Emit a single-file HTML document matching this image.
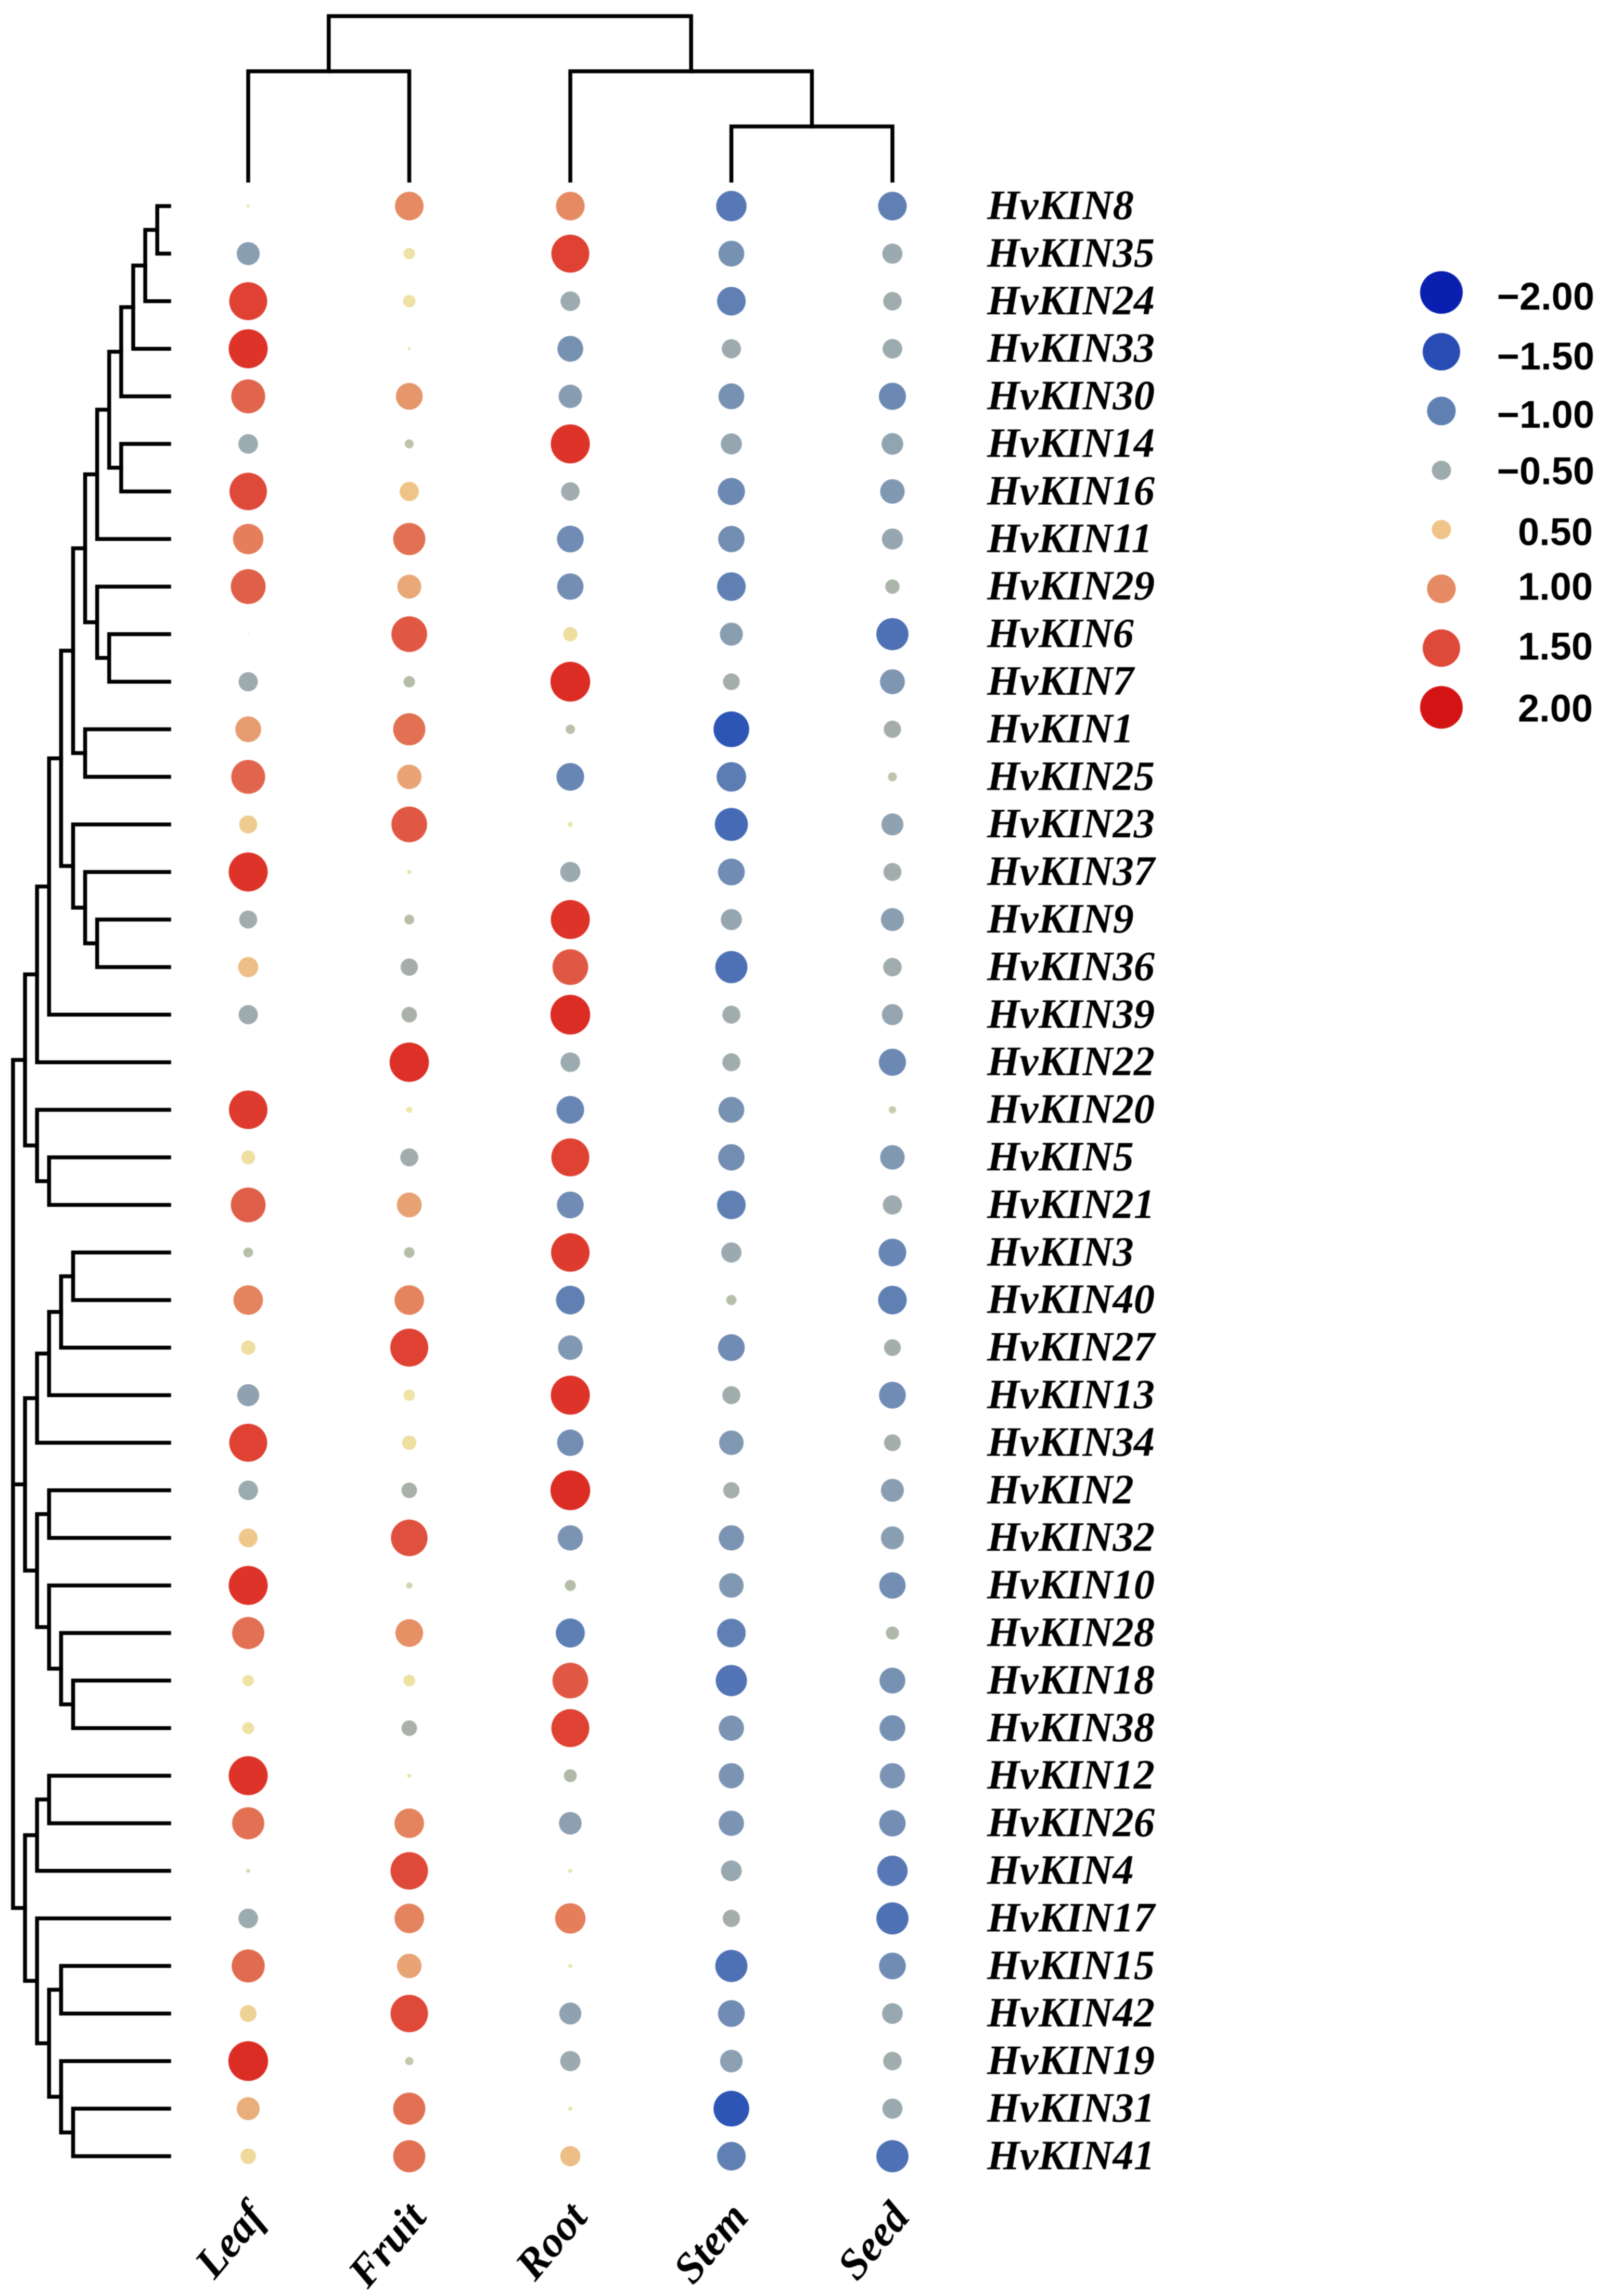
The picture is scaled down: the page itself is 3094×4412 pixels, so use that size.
<!DOCTYPE html>
<html lang="en">
<head>
<meta charset="utf-8">
<title>HvKIN expression dot heatmap</title>
<style>
  html, body { margin: 0; padding: 0; background: #fff; }
  #chart { display: block; width: 3094px; height: 4412px; filter: blur(0.9px); }
  .gene { font: italic bold 80.5px "Liberation Serif", serif; fill: #000; }
  .tissue { font: italic bold 83px "Liberation Serif", serif; fill: #000; }
  .legend-label { font: bold 74px "Liberation Sans", sans-serif; fill: #000; }
</style>
</head>
<body>
<svg id="chart" xmlns="http://www.w3.org/2000/svg" width="3094" height="4412" viewBox="0 0 3094 4412">
  <rect width="3094" height="4412" fill="#fff"></rect>
  <g id="top-dendrogram" fill="none" stroke="#000" stroke-width="7.5" stroke-linecap="square"></g>
  <g id="left-dendrogram" fill="none" stroke="#000" stroke-width="7.5" stroke-linecap="square"></g>
  <g id="dots"></g>
  <g id="gene-labels"></g>
  <g id="tissue-labels"></g>
  <g id="legend"></g>
</svg>
<script>
const genes = ["HvKIN8","HvKIN35","HvKIN24","HvKIN33","HvKIN30","HvKIN14","HvKIN16","HvKIN11","HvKIN29","HvKIN6","HvKIN7","HvKIN1","HvKIN25","HvKIN23","HvKIN37","HvKIN9","HvKIN36","HvKIN39","HvKIN22","HvKIN20","HvKIN5","HvKIN21","HvKIN3","HvKIN40","HvKIN27","HvKIN13","HvKIN34","HvKIN2","HvKIN32","HvKIN10","HvKIN28","HvKIN18","HvKIN38","HvKIN12","HvKIN26","HvKIN4","HvKIN17","HvKIN15","HvKIN42","HvKIN19","HvKIN31","HvKIN41"];
const tissues = ["Leaf","Fruit","Root","Stem","Seed"];
const leafValues = [0.02,-0.7,1.55,1.65,1.3,-0.52,1.5,1.1,1.35,0.005,-0.5,0.85,1.3,0.45,1.65,-0.45,0.55,-0.5,0,1.6,0.28,1.35,-0.14,1.05,0.3,-0.65,1.55,-0.52,0.48,1.65,1.2,0.18,0.2,1.65,1.2,-0.03,-0.52,1.25,0.4,1.72,0.7,0.35];
const fruitValues = [1.0,0.18,0.22,0.02,0.9,-0.12,0.5,1.2,0.75,1.4,-0.18,1.2,0.78,1.4,0.03,-0.14,-0.42,-0.35,1.68,0.05,-0.45,0.8,-0.16,1.05,1.55,0.18,0.3,-0.35,1.45,-0.05,0.95,0.2,-0.35,0.03,1.05,1.5,1.05,0.78,1.5,-0.1,1.2,1.2];
const rootValues = [1.0,1.55,-0.52,-0.85,-0.72,1.65,-0.47,-0.9,-0.88,0.3,1.72,-0.13,-0.95,0.04,-0.55,1.65,1.4,1.72,-0.52,-0.95,1.55,-0.9,1.6,-1.0,-0.78,1.65,-0.88,1.72,-0.82,-0.17,-1.02,1.4,1.55,-0.24,-0.68,0.03,1.1,0.03,-0.65,-0.55,0.03,0.55];
const stemValues = [-1.1,-0.85,-1.0,-0.5,-0.85,-0.6,-0.92,-0.88,-1.0,-0.7,-0.4,-1.4,-1.05,-1.25,-0.9,-0.6,-1.2,-0.45,-0.45,-0.85,-0.88,-1.0,-0.55,-0.15,-0.9,-0.45,-0.78,-0.38,-0.82,-0.78,-1.0,-1.15,-0.82,-0.82,-0.82,-0.58,-0.42,-1.2,-0.9,-0.68,-1.4,-1.0];
const seedValues = [-1.0,-0.55,-0.47,-0.52,-0.92,-0.63,-0.78,-0.6,-0.3,-1.2,-0.8,-0.42,-0.12,-0.65,-0.45,-0.7,-0.47,-0.6,-0.92,-0.08,-0.78,-0.5,-0.95,-1.0,-0.4,-0.9,-0.4,-0.7,-0.7,-0.88,-0.25,-0.85,-0.85,-0.82,-0.88,-1.1,-1.2,-0.9,-0.58,-0.47,-0.55,-1.2];
const legendValues = [-2,-1.5,-1,-0.5,0.5,1,1.5,2];
const legendLabels = ["\u22122.00","\u22121.50","\u22121.00","\u22120.50","0.50","1.00","1.50","2.00"];

// Dendrogram topology: [level, ...children]; numbers are leaf indexes.
const tissueTree = [0,[1,0,1],[1,2,[2,3,4]]];
const geneTree = [0,
  [1,
    [2,
      [3,
        [4,
          [5,
            [6,
              [7,
                [8,
                  [9,[10,[11,[12,0,1],2],3],4],
                  [9,5,6]
                ],
                7
              ],
              [7,8,[8,9,10]]
            ],
            [6,11,12]
          ],
          [5,13,[6,14,[7,15,16]]]
        ],
        17
      ],
      18
    ],
    [2,19,[3,20,21]]
  ],
  [1,
    [2,[3,[4,[5,22,23],24],25],26],
    [2,
      [3,27,28],
      [3,29,[4,30,[5,31,32]]]
    ]
  ],
  [1,
    [2,[3,33,34],35],
    [2,36,[3,[4,37,38],[4,39,[5,40,41]]]]
  ]
];

const seriesByTissue = [leafValues, fruitValues, rootValues, stemValues, seedValues];
const SVG_NS = "http://www.w3.org/2000/svg";

function xScale(col) { return 477 + col * 309.5; }
function yScale(row) { return 396 + row * 91.4; }
function geneLevelX(level) { return 25 + level * 23.1; }
function tissueLevelY(level) { return 31 + level * 106; }

function interpolate(v, domain, range) {
  if (v <= domain[0]) return range[0];
  for (let i = 1; i < domain.length; i++) {
    if (v <= domain[i]) {
      const t = (v - domain[i - 1]) / (domain[i] - domain[i - 1]);
      return range[i - 1] + t * (range[i] - range[i - 1]);
    }
  }
  return range[range.length - 1];
}
function sizeScale(v) {
  return interpolate(Math.abs(v), [0, 0.05, 0.18, 0.5, 1, 1.5, 2], [2, 12, 22, 37, 55, 72, 82]);
}
function colorScale(v) {
  const domain = [-2, -1.4, -1.2, -1, -0.8, -0.55, -0.4, -0.14, 0, 0.05, 0.3, 0.5, 0.75, 1, 1.35, 1.65, 2];
  const reds =   [10, 45, 78, 96, 127, 154, 165, 184, 225, 238, 238, 238, 232, 229, 224, 222, 212];
  const greens = [31, 85, 113, 128, 150, 170, 174, 191, 225, 232, 222, 196, 168, 138, 95, 51, 20];
  const blues =  [175, 181, 181, 180, 179, 176, 170, 168, 180, 168, 160, 136, 120, 98, 72, 41, 20];
  return "rgb(" + Math.round(interpolate(v, domain, reds)) + "," +
    Math.round(interpolate(v, domain, greens)) + "," +
    Math.round(interpolate(v, domain, blues)) + ")";
}
function make(tag, attrs, parent) {
  const el = document.createElementNS(SVG_NS, tag);
  for (const k in attrs) el.setAttribute(k, attrs[k]);
  parent.appendChild(el);
  return el;
}

// Gene dendrogram (left, horizontal)
const leftGroup = document.getElementById("left-dendrogram");
function drawGeneNode(node) {
  if (typeof node === "number") return { pos: yScale(node), tip: 325 };
  const x = geneLevelX(node[0]);
  const kids = node.slice(1).map(drawGeneNode);
  const first = kids[0].pos;
  const last = kids[kids.length - 1].pos;
  let d = "M" + x + " " + first + "L" + x + " " + last;
  kids.forEach(function (k) { d += "M" + x + " " + k.pos + "L" + k.tip + " " + k.pos; });
  const path = make("path", { d: d }, leftGroup);
  
  
  return { pos: (first + last) / 2, tip: x };
}
drawGeneNode(geneTree);

// Tissue dendrogram (top, vertical)
const topGroup = document.getElementById("top-dendrogram");
function drawTissueNode(node) {
  if (typeof node === "number") return { pos: xScale(node), tip: 347 };
  const y = tissueLevelY(node[0]);
  const kids = node.slice(1).map(drawTissueNode);
  const first = kids[0].pos;
  const last = kids[kids.length - 1].pos;
  let d = "M" + first + " " + y + "L" + last + " " + y;
  kids.forEach(function (k) { d += "M" + k.pos + " " + y + "L" + k.pos + " " + k.tip; });
  const path = make("path", { d: d }, topGroup);
  
  
  return { pos: (first + last) / 2, tip: y };
}
drawTissueNode(tissueTree);

// Dots
const dotGroup = document.getElementById("dots");
seriesByTissue.forEach(function (values, col) {
  values.forEach(function (v, row) {
    const dot = make("circle", {
      cx: xScale(col),
      cy: yScale(row),
      r: sizeScale(v) / 2,
      fill: colorScale(v)
    }, dotGroup);
    
    
  });
});

// Gene labels
const geneGroup = document.getElementById("gene-labels");
genes.forEach(function (g, row) {
  const t = make("text", { x: 1897, y: yScale(row) + 25, "class": "gene" }, geneGroup);
  t.textContent = g;
  
  
});

// Tissue labels
const tissueGroup = document.getElementById("tissue-labels");
tissues.forEach(function (name, col) {
  const ax = xScale(col) + 36;
  const ay = 4262;
  const t = make("text", {
    x: ax, y: ay, "class": "tissue", "text-anchor": "end",
    transform: "rotate(-50 " + ax + " " + ay + ")"
  }, tissueGroup);
  t.textContent = name;
  
  
});

// Legend
const legendGroup = document.getElementById("legend");
const legendBaselineNudge = [33, 34, 32, 27, 30, 21, 22, 27];
legendValues.forEach(function (v, i) {
  const cy = 562 + i * 113.9;
  const swatch = make("circle", { cx: 2770, cy: cy, r: sizeScale(v) / 2, fill: colorScale(v) }, legendGroup);
  
  
  const t = make("text", {
    x: v < 0 ? 3064 : 3061,
    y: cy + legendBaselineNudge[i],
    "class": "legend-label",
    "text-anchor": "end"
  }, legendGroup);
  t.textContent = legendLabels[i];
  
  
});
</script>
</body>
</html>
